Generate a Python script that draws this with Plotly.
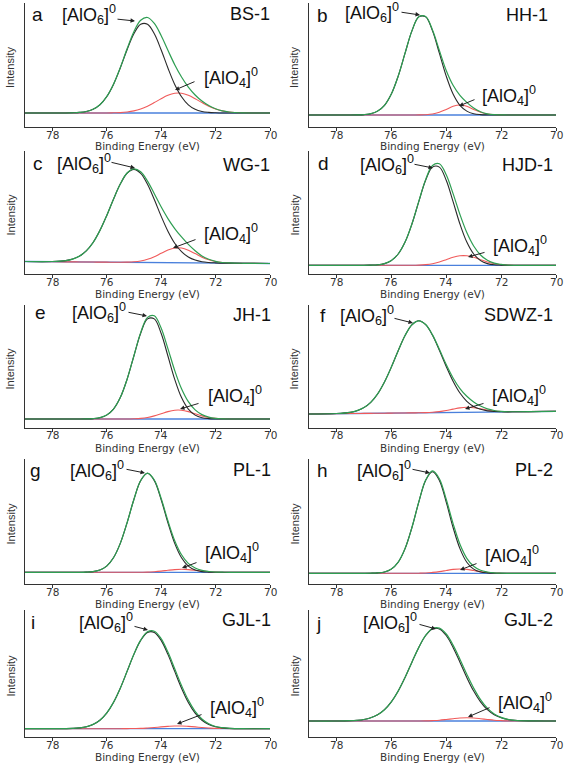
import plotly.graph_objects as go

# ---------------- data ----------------
BE = [79, 78, 77.5, 77.25, 77, 76.75, 76.5, 76.25, 76, 75.75, 75.5, 75.25, 75,
      74.75, 74.5, 74.25, 74, 73.75, 73.5, 73.25, 73, 72.75, 72.5, 72.25, 72,
      71.75, 71.5, 71, 70]
TICKS = [78, 76, 74, 72, 70]
LETTERS = ["a", "b", "c", "d", "e", "f", "g", "h", "i", "j"]
SAMPLES = ["BS-1", "HH-1", "WG-1", "HJD-1", "JH-1", "SDWZ-1", "PL-1", "PL-2", "GJL-1", "GJL-2"]

# component intensities above the baseline ([AlO6]0 and [AlO4]0), baseline at 79 and 70 eV
A_ALO6 = [0, 0, 0, 0.2, 0.6, 1.5, 3.7, 8.2, 16.3, 28.6, 45, 63.2, 79.2, 88.7, 88.7, 79.2, 63.2, 45, 28.6, 16.3, 8.2, 3.7, 1.5, 0.6, 0.2, 0, 0, 0, 0]
A_ALO4 = [0, 0, 0, 0, 0, 0, 0, 0, 0, 0.2, 0.4, 1.0, 2.1, 4.0, 6.8, 10.4, 14.3, 17.7, 19.7, 19.7, 17.7, 14.3, 10.4, 6.8, 4.0, 2.1, 1.0, 0.2, 0]
A_BASE = [14, 14]

B_ALO6 = [0, 0, 0, 0.1, 0.4, 1.3, 3.9, 9.7, 21.0, 38.9, 61.8, 84.1, 98.1, 98.1, 84.1, 61.8, 38.9, 21.0, 9.7, 3.9, 1.3, 0.4, 0.1, 0, 0, 0, 0, 0, 0]
B_ALO4 = [0, 0, 0, 0, 0, 0, 0, 0, 0, 0, 0, 0, 0.1, 0.3, 1.0, 2.8, 5.6, 8.7, 10, 8.7, 5.6, 2.8, 1.0, 0.3, 0.1, 0, 0, 0, 0]
B_BASE = [12, 12]

C_ALO6 = [0, 0.2, 1.2, 2.8, 5.8, 11.1, 19.5, 31.5, 46.5, 63.0, 78.2, 89.1, 93, 89.1, 78.2, 63.0, 46.5, 31.5, 19.5, 11.1, 5.8, 2.8, 1.2, 0.5, 0.2, 0, 0, 0, 0]
C_ALO4 = [0, 0, 0, 0, 0, 0, 0, 0, 0, 0, 0, 0.2, 0.6, 1.5, 3.2, 5.8, 9.3, 12.6, 14.7, 14.7, 12.6, 9.3, 5.8, 3.2, 1.5, 0.6, 0.2, 0, 0]
C_BASE = [12.5, 10.5]

D_ALO6 = [0, 0, 0, 0, 0, 0.2, 0.5, 1.7, 4.7, 11.3, 23.2, 41.3, 63.7, 85.0, 98.2, 98.2, 85.0, 63.7, 41.3, 23.2, 11.3, 4.7, 1.7, 0.5, 0.2, 0, 0, 0, 0]
D_ALO4 = [0, 0, 0, 0, 0, 0, 0, 0, 0, 0, 0, 0, 0.2, 0.7, 1.6, 3.3, 5.6, 8.0, 9.5, 9.5, 8.0, 5.6, 3.3, 1.6, 0.7, 0.2, 0, 0, 0]
D_BASE = [8.7, 8.7]

E_ALO6 = [0, 0, 0, 0, 0, 0.1, 0.4, 1.3, 3.9, 9.9, 21.4, 39.7, 63.0, 85.8, 100.1, 100.1, 85.8, 63.0, 39.7, 21.4, 9.9, 3.9, 1.3, 0.4, 0.1, 0, 0, 0, 0]
E_ALO4 = [0, 0, 0, 0, 0, 0, 0, 0, 0, 0, 0, 0, 0.2, 0.6, 1.5, 3.1, 5.2, 7.4, 8.8, 8.8, 7.4, 5.2, 3.1, 1.5, 0.6, 0.2, 0, 0, 0]
E_BASE = [9, 9]

F_ALO6 = [0, 0.2, 1.2, 2.8, 5.8, 11.0, 19.3, 31.2, 46, 62.3, 77.4, 88.1, 92, 88.1, 77.4, 62.3, 46, 31.2, 19.3, 11.0, 5.8, 2.8, 1.2, 0.5, 0.2, 0, 0, 0, 0]
F_ALO4 = [0, 0, 0, 0, 0, 0, 0, 0, 0, 0, 0, 0, 0, 0.1, 0.4, 1.0, 2.0, 3.3, 4.5, 5, 4.5, 3.3, 2.0, 1.0, 0.4, 0.1, 0, 0, 0]
F_BASE = [14, 16.7]

G_ALO6 = [0, 0, 0, 0, 0, 0.2, 0.7, 2.3, 6.2, 14.5, 28.9, 49.5, 72.8, 91.7, 99, 91.7, 72.8, 49.5, 28.9, 14.5, 6.2, 2.3, 0.7, 0.2, 0, 0, 0, 0, 0]
G_ALO4 = [0, 0, 0, 0, 0, 0, 0, 0, 0, 0, 0, 0, 0, 0.1, 0.2, 0.6, 1.2, 2.0, 2.7, 3.0, 2.7, 2.0, 1.2, 0.6, 0.2, 0.1, 0, 0, 0]
G_BASE = [11.7, 11.7]

H_ALO6 = [0, 0, 0, 0, 0, 0.1, 0.4, 1.3, 4.2, 11.1, 24.7, 45.8, 71.2, 92.9, 101.5, 92.9, 71.2, 45.8, 24.7, 11.1, 4.2, 1.3, 0.4, 0.1, 0, 0, 0, 0, 0]
H_ALO4 = [0, 0, 0, 0, 0, 0, 0, 0, 0, 0, 0, 0, 0.1, 0.3, 0.9, 1.7, 2.8, 3.9, 4.3, 3.9, 2.8, 1.7, 0.9, 0.3, 0.1, 0, 0, 0, 0]
H_BASE = [10.7, 10.7]

I_ALO6 = [0, 0, 0.1, 0.3, 0.8, 1.9, 4.3, 8.5, 15.6, 26.3, 40.5, 57.3, 74.3, 88.3, 96.3, 96.3, 88.3, 74.3, 57.3, 40.5, 26.3, 15.6, 8.5, 4.3, 1.9, 0.8, 0.3, 0, 0]
I_ALO4 = [0, 0, 0, 0, 0, 0, 0, 0, 0, 0, 0, 0.1, 0.2, 0.3, 0.7, 1.2, 1.8, 2.3, 2.7, 2.7, 2.3, 1.8, 1.2, 0.7, 0.3, 0.2, 0.1, 0, 0]
I_BASE = [8.3, 8.3]

J_ALO6 = [0, 0, 0.3, 0.7, 1.5, 3.2, 6.2, 11.3, 19.1, 29.9, 43.5, 58.8, 73.6, 85.5, 92.1, 92.1, 85.5, 73.6, 58.8, 43.5, 29.9, 19.1, 11.3, 6.2, 3.2, 1.5, 0.7, 0.1, 0]
J_ALO4 = [0, 0, 0, 0, 0, 0, 0, 0, 0, 0, 0, 0, 0, 0.1, 0.4, 0.8, 1.5, 2.3, 3.0, 3.3, 3.0, 2.3, 1.5, 0.8, 0.4, 0.1, 0, 0, 0]
J_BASE = [16, 16]

ALO6 = [A_ALO6, B_ALO6, C_ALO6, D_ALO6, E_ALO6, F_ALO6, G_ALO6, H_ALO6, I_ALO6, J_ALO6]
ALO4 = [A_ALO4, B_ALO4, C_ALO4, D_ALO4, E_ALO4, F_ALO4, G_ALO4, H_ALO4, I_ALO4, J_ALO4]
BASE = [A_BASE, B_BASE, C_BASE, D_BASE, E_BASE, F_BASE, G_BASE, H_BASE, I_BASE, J_BASE]

# ---------------- layout geometry (pixels) ----------------
W, H = 567, 763
COLS = [(25, 270), (309, 556)]
ROWS = [(3, 127), (151, 274), (305, 428), (459, 584), (610, 737)]

# per panel: letter pos, L6 left/center, L4 left/center, name right/center, arrow6 tail/tip, arrow4 tail/tip
ANN = [
    dict(let=(37, 14), l6=(60, 14), l4=(202, 77), nm=(272, 14), a6=((116, 19), (135, 21)), a4=((196, 81), (175, 90))),
    dict(let=(322, 15), l6=(343, 13), l4=(480, 96), nm=(550, 15), a6=((400, 12), (420, 15)), a4=((476, 99), (459, 106))),
    dict(let=(38, 163), l6=(55, 163), l4=(202, 233), nm=(272, 165), a6=((110, 162), (135, 168)), a4=((197, 239), (173, 248))),
    dict(let=(323, 163), l6=(358, 164), l4=(491, 245), nm=(555, 165), a6=((413, 164), (433, 168)), a4=((486, 252), (468, 257))),
    dict(let=(40, 312), l6=(70, 312), l4=(206, 395), nm=(273, 315), a6=((127, 312), (147, 316)), a4=((200, 403), (180, 409))),
    dict(let=(323, 315), l6=(338, 315), l4=(490, 395), nm=(555, 315), a6=((393, 318), (413, 323)), a4=((485, 403), (465, 409))),
    dict(let=(35, 470), l6=(68, 470), l4=(203, 552), nm=(273, 470), a6=((125, 469), (145, 473)), a4=((198, 562), (182, 568))),
    dict(let=(322, 470), l6=(355, 470), l4=(483, 555), nm=(555, 470), a6=((411, 469), (430, 473)), a4=((478, 563), (460, 570))),
    dict(let=(33, 622), l6=(77, 622), l4=(208, 707), nm=(273, 620), a6=((133, 626), (148, 630)), a4=((203, 714), (177, 724))),
    dict(let=(318, 623), l6=(361, 622), l4=(496, 702), nm=(555, 620), a6=((418, 624), (436, 629)), a4=((491, 707), (468, 717))),
]

GREEN = "#2e9e52"
BLACK = "#2a2a2a"
RED = "#f05a5a"
BLUE = "#4a80dc"
AXC = "#333333"
FONT = "Liberation Sans, Arial, sans-serif"
AXFONT = "DejaVu Sans, Verdana, sans-serif"


def px(x):
    return x / W


def py(y):
    return 1 - y / H


fig = go.Figure()
layout = dict(
    width=W, height=H, margin=dict(l=0, r=0, t=0, b=0),
    paper_bgcolor="white", plot_bgcolor="white", showlegend=False,
    font=dict(family=FONT, color="#222222"),
)
annotations = []

for i in range(10):
    r, c = divmod(i, 2)
    x0, x1 = COLS[c]
    y0, y1 = ROWS[r]
    hgt = y1 - y0
    k = "" if i == 0 else str(i + 1)
    xa, ya = "x" + k, "y" + k
    bl, br = BASE[i]
    base = [bl + (br - bl) * (79 - x) / 9 for x in BE]
    red = [b + v for b, v in zip(base, ALO4[i])]
    blk = [b + v for b, v in zip(base, ALO6[i])]
    grn = [b + v + w for b, v, w in zip(base, ALO6[i], ALO4[i])]
    common = dict(mode="lines", xaxis=xa, yaxis=ya, hoverinfo="skip")
    fig.add_trace(go.Scatter(x=[79, 70], y=[bl, br], line=dict(color=BLUE, width=1.3), **common))
    fig.add_trace(go.Scatter(x=BE, y=red, line=dict(color=RED, width=1.1, shape="spline", smoothing=1.0), **common))
    fig.add_trace(go.Scatter(x=BE, y=blk, line=dict(color=BLACK, width=1.1, shape="spline", smoothing=1.0), **common))
    fig.add_trace(go.Scatter(x=BE, y=grn, line=dict(color=GREEN, width=1.2, shape="spline", smoothing=1.0), **common))

    layout["xaxis" + k] = dict(
        domain=[px(x0), px(x1)], anchor=ya, range=[79, 70], tickvals=TICKS,
        ticks="outside", ticklen=3, tickcolor=AXC, showline=True, linecolor=AXC, linewidth=1,
        showgrid=False, zeroline=False, showticklabels=False,
    )
    layout["yaxis" + k] = dict(
        domain=[py(y1), py(y0)], anchor=xa, range=[0, hgt], showticklabels=False, ticks="",
        showline=True, linecolor=AXC, linewidth=1, showgrid=False, zeroline=False,
    )

    # tick labels, placed on the axis' own scale
    for t in TICKS:
        annotations.append(dict(xref=xa, yref="paper", x=t, y=py(y1 + 7.5), text=str(t), showarrow=False,
                                xanchor="center", yanchor="middle",
                                font=dict(size=10.5, family=AXFONT, color="#333333")))
    a = ANN[i]
    annotations.append(dict(xref="paper", yref="paper", x=px((x0 + x1) / 2), y=py(y1 + 19.5),
                            text="Binding Energy (eV)", showarrow=False, xanchor="center", yanchor="middle",
                            font=dict(size=10.5, family=AXFONT, color="#333333")))
    annotations.append(dict(xref="paper", yref="paper", x=px(a["let"][0]), y=py(a["let"][1]),
                            text=LETTERS[i], showarrow=False, xanchor="center", yanchor="middle",
                            font=dict(size=19, family=FONT, color="#111111")))
    annotations.append(dict(xref="paper", yref="paper", x=px(a["l6"][0]), y=py(a["l6"][1]),
                            text="[AlO<sub>6</sub>]<sup>0</sup>", showarrow=False, xanchor="left", yanchor="middle",
                            font=dict(size=18, family=FONT, color="#111111")))
    annotations.append(dict(xref="paper", yref="paper", x=px(a["l4"][0]), y=py(a["l4"][1]),
                            text="[AlO<sub>4</sub>]<sup>0</sup>", showarrow=False, xanchor="left", yanchor="middle",
                            font=dict(size=18, family=FONT, color="#111111")))
    annotations.append(dict(xref="paper", yref="paper", x=px(a["nm"][0]), y=py(a["nm"][1]),
                            text=SAMPLES[i], showarrow=False, xanchor="right", yanchor="middle",
                            font=dict(size=18, family=FONT, color="#111111")))
    for key in ("a6", "a4"):
        (tx, ty), (hx, hy) = a[key]
        annotations.append(dict(xref="paper", yref="paper", x=px(hx), y=py(hy), ax=tx - hx, ay=ty - hy,
                                text="", showarrow=True, arrowhead=2, arrowsize=0.9, arrowwidth=1,
                                arrowcolor="#222222", standoff=0, startstandoff=0))
    annotations.append(dict(xref="paper", yref="paper", x=px(x0 - 15), y=py((y0 + y1) / 2 + 3),
                            text="Intensity", showarrow=False, textangle=-90, xanchor="center", yanchor="middle",
                            font=dict(size=11, family="Liberation Sans Narrow, Arial Narrow, " + FONT, color="#333333")))

layout["annotations"] = annotations
fig.update_layout(**layout)
fig.write_html("out.html", config={"displayModeBar": False, "staticPlot": True},
               post_script="document.body.style.margin='0';document.body.style.overflow='hidden';")
